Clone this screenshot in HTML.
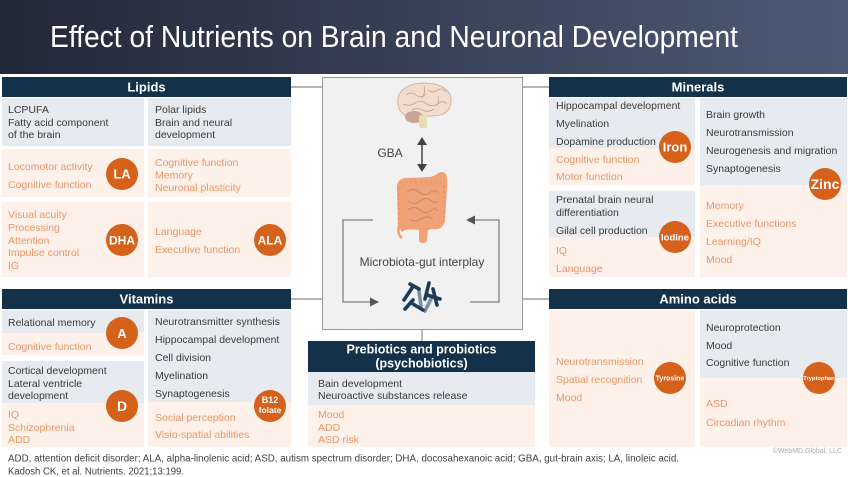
<!DOCTYPE html>
<html><head><meta charset="utf-8"><style>
html,body{margin:0;padding:0;background:#fff;}
svg{display:block;}
text{font-family:"Liberation Sans",Arial,sans-serif;}
.d{fill:#3a3a3a;font-size:10.5px;}
.o{fill:#ec9668;font-size:10.5px;}
.h{fill:#fff;font-size:13px;font-weight:bold;text-anchor:middle;}
.c{fill:#fff;font-weight:bold;text-anchor:middle;}
.g{fill:#e7eaee;}
.p{fill:#fdf1ea;}
.bar{fill:#133149;}
.ci{fill:#d5611b;}
</style></head><body>
<svg width="848" height="477" viewBox="0 0 848 477" xmlns="http://www.w3.org/2000/svg">
<defs>
<linearGradient id="hg" x1="0" y1="0" x2="1" y2="0">
<stop offset="0" stop-color="#212838"/><stop offset="1" stop-color="#4e5a75"/>
</linearGradient>
</defs>
<rect x="0" y="0" width="848" height="74" fill="url(#hg)"/>
<text x="50" y="47" font-size="31" fill="#fff" textLength="688" lengthAdjust="spacingAndGlyphs">Effect of Nutrients on Brain and Neuronal Development</text>

<!-- connectors -->
<g stroke="#8c8c8c" stroke-width="1.2">
<line x1="291" y1="87" x2="322" y2="87"/>
<line x1="523" y1="87" x2="549" y2="87"/>
<line x1="291" y1="299" x2="322" y2="299"/>
<line x1="523" y1="299" x2="549" y2="299"/>
<line x1="422" y1="330" x2="422" y2="341"/>
</g>

<!-- center box -->
<rect x="322.5" y="77.5" width="200" height="252" fill="#f1f1f1" stroke="#9a9a9a" stroke-width="1"/>

<!-- brain -->
<g>
<path d="M398,104 C396,90 409,83 424,83 C441,83 452,90 451,102 C450,112 443,116 432,116 L414,117 C404,117 399,112 398,104 Z" fill="#f2dccf" stroke="#c9a898" stroke-width="0.8"/>
<ellipse cx="414" cy="117" rx="9" ry="6" fill="#c9a592"/>
<rect x="419" y="115" width="8" height="13" rx="2" fill="#e8dcb5"/>
<g fill="none" stroke="#c4a08f" stroke-width="0.8">
<path d="M406,95 q5,-4 10,0 q5,4 10,-1"/>
<path d="M428,90 q5,4 10,0 q4,-3 8,2"/>
<path d="M403,104 q6,3 12,-1 q6,-4 12,1 q6,4 12,-1 q4,-3 8,1"/>
<path d="M412,110 q5,-3 10,0 q6,3 12,-1"/>
<path d="M424,86 q2,6 -2,12"/>
<path d="M438,96 q2,6 -2,10"/>
</g>
</g>

<!-- GBA double arrow -->
<text x="390" y="157" font-size="12" fill="#444" text-anchor="middle">GBA</text>
<line x1="422" y1="143" x2="422" y2="166" stroke="#444" stroke-width="1.5"/>
<polygon points="422,137 417,145 427,145" fill="#444"/>
<polygon points="422,172 417,164 427,164" fill="#444"/>

<!-- gut -->
<g>
<path d="M398,226 L397,190 C396,180 402,177 410,178 L430,177 C436,176 438,172 442,172 C447,172 448,178 447,188 L445,220 C444,228 438,230 432,229 L428,230 L427,240 C427,244 419,244 419,240 L419,230 C412,229 405,229 402,232 L398,226 Z" fill="#f0a275"/>
<path d="M399,226 q-2,8 3,12" stroke="#f0a275" stroke-width="2.5" fill="none"/>
<rect x="405" y="186" width="34" height="38" rx="8" fill="#eea47b"/>
<path d="M407,192 q6,-5 12,0 q6,5 12,0 q4,-3 7,1 M408,201 q6,5 12,0 q6,-5 12,0 q3,3 6,0 M408,210 q6,-5 12,0 q6,5 12,0 q3,-3 6,1 M409,219 q6,4 12,0 q6,-4 12,0" fill="none" stroke="#d9825a" stroke-width="0.9"/>
<path d="M400,182 h45" stroke="#e48e60" stroke-width="1" stroke-dasharray="2 3"/>
<path d="M399,188 v36 M444,186 v36" stroke="#e48e60" stroke-width="1" stroke-dasharray="2 3"/>
</g>

<text x="422" y="266" font-size="12" fill="#444" text-anchor="middle">Microbiota-gut interplay</text>

<!-- loop arrows -->
<g stroke="#808080" stroke-width="1.3" fill="none">
<polyline points="373,220 343,220 343,302 371,302"/>
<polyline points="470,302 499,302 499,220 474,220"/>
</g>
<polygon points="379,302 370,297.5 370,306.5" fill="#555"/>
<polygon points="466,220 475,215.5 475,224.5" fill="#555"/>

<!-- bacteria -->
<g stroke-linecap="round" stroke-width="3.6">
<line x1="419" y1="291" x2="421" y2="306" stroke="#7b8fa0"/>
<line x1="431" y1="299" x2="425" y2="311" stroke="#7b8fa0"/>
<line x1="410" y1="284" x2="419" y2="289" stroke="#1d3b57"/>
<line x1="429" y1="283" x2="425" y2="299" stroke="#1d3b57"/>
<line x1="404" y1="300" x2="412" y2="288" stroke="#1d3b57"/>
<line x1="433" y1="289" x2="437" y2="305" stroke="#1d3b57"/>
<line x1="413" y1="304" x2="423" y2="310" stroke="#1d3b57"/>
<line x1="427" y1="295" x2="440" y2="299" stroke="#1d3b57"/>
<line x1="405" y1="309" x2="413" y2="300" stroke="#1d3b57"/>
</g>

<!-- LIPIDS -->
<rect class="bar" x="2" y="77" width="289" height="20"/>
<text class="h" x="146.5" y="91.5">Lipids</text>
<rect class="g" x="2" y="98" width="142" height="48"/>
<rect class="g" x="148" y="98" width="143" height="48"/>
<rect class="p" x="2" y="149" width="142" height="48"/>
<rect class="p" x="148" y="149" width="143" height="48"/>
<rect class="p" x="2" y="202" width="142" height="75"/>
<rect class="p" x="148" y="202" width="143" height="75"/>
<text class="d" x="8" y="113">LCPUFA</text>
<text class="d" x="8" y="126">Fatty acid component</text>
<text class="d" x="8" y="138">of the brain</text>
<text class="d" x="155" y="113">Polar lipids</text>
<text class="d" x="155" y="126">Brain and neural</text>
<text class="d" x="155" y="138">development</text>
<text class="o" x="8" y="170">Locomotor activity</text>
<text class="o" x="8" y="188">Cognitive function</text>
<text class="o" x="155" y="166">Cognitive function</text>
<text class="o" x="155" y="178.5">Memory</text>
<text class="o" x="155" y="191">Neuronal plasticity</text>
<text class="o" x="8" y="218">Visual acuity</text>
<text class="o" x="8" y="231">Processing</text>
<text class="o" x="8" y="244">Attention</text>
<text class="o" x="8" y="256">Impulse control</text>
<text class="o" x="8" y="269">IG</text>
<text class="o" x="155" y="235">Language</text>
<text class="o" x="155" y="253">Executive function</text>
<circle class="ci" cx="122" cy="174" r="16"/><text class="c" x="122" y="178.5" font-size="13">LA</text>
<circle class="ci" cx="122" cy="240" r="16"/><text class="c" x="122" y="244.5" font-size="12">DHA</text>
<circle class="ci" cx="270" cy="240" r="16"/><text class="c" x="270" y="244.5" font-size="12">ALA</text>

<!-- MINERALS -->
<rect class="bar" x="549" y="77" width="298" height="20"/>
<text class="h" x="698" y="91.5">Minerals</text>
<rect class="g" x="549" y="98" width="146" height="50"/>
<rect class="p" x="549" y="148" width="146" height="37"/>
<rect class="g" x="549" y="191" width="146" height="46"/>
<rect class="p" x="549" y="237" width="146" height="40"/>
<rect class="g" x="700" y="98" width="147" height="87"/>
<rect class="p" x="700" y="185" width="147" height="92"/>
<text class="d" x="556" y="109">Hippocampal development</text>
<text class="d" x="556" y="127">Myelination</text>
<text class="d" x="556" y="145">Dopamine production</text>
<text class="o" x="556" y="163">Cognitive function</text>
<text class="o" x="556" y="180">Motor function</text>
<text class="d" x="556" y="203">Prenatal brain neural</text>
<text class="d" x="556" y="216">differentiation</text>
<text class="d" x="556" y="234">Gilal cell production</text>
<text class="o" x="556" y="254">IQ</text>
<text class="o" x="556" y="272">Language</text>
<text class="d" x="706" y="118">Brain growth</text>
<text class="d" x="706" y="136">Neurotransmission</text>
<text class="d" x="706" y="154">Neurogenesis and migration</text>
<text class="d" x="706" y="172">Synaptogenesis</text>
<text class="o" x="706" y="209">Memory</text>
<text class="o" x="706" y="227">Executive functions</text>
<text class="o" x="706" y="245">Learning/IQ</text>
<text class="o" x="706" y="263">Mood</text>
<circle class="ci" cx="675" cy="147" r="16"/><text class="c" x="675" y="151.5" font-size="13">Iron</text>
<circle class="ci" cx="675" cy="237" r="16"/><text class="c" x="675" y="240.5" font-size="9.5">Iodine</text>
<circle class="ci" cx="825" cy="184" r="16"/><text class="c" x="825" y="189" font-size="14">Zinc</text>

<!-- VITAMINS -->
<rect class="bar" x="2" y="289" width="289" height="20"/>
<text class="h" x="146.5" y="303.5">Vitamins</text>
<rect class="g" x="2" y="310" width="142" height="23"/>
<rect class="p" x="2" y="333" width="142" height="22"/>
<rect class="g" x="2" y="361" width="142" height="42"/>
<rect class="p" x="2" y="403" width="142" height="44"/>
<rect class="g" x="148" y="310" width="143" height="92"/>
<rect class="p" x="148" y="402" width="143" height="45"/>
<text class="d" x="8" y="326">Relational memory</text>
<text class="o" x="8" y="350">Cognitive function</text>
<text class="d" x="8" y="374">Cortical development</text>
<text class="d" x="8" y="387">Lateral ventricle</text>
<text class="d" x="8" y="399">development</text>
<text class="o" x="8" y="418">IQ</text>
<text class="o" x="8" y="431">Schizophrenia</text>
<text class="o" x="8" y="443">ADD</text>
<text class="d" x="155" y="325">Neurotransmitter synthesis</text>
<text class="d" x="155" y="343">Hippocampal development</text>
<text class="d" x="155" y="361">Cell division</text>
<text class="d" x="155" y="379">Myelination</text>
<text class="d" x="155" y="397">Synaptogenesis</text>
<text class="o" x="155" y="421">Social perception</text>
<text class="o" x="155" y="438">Visio-spatial abilities</text>
<circle class="ci" cx="122" cy="333" r="16"/><text class="c" x="122" y="338" font-size="13">A</text>
<circle class="ci" cx="122" cy="406" r="16"/><text class="c" x="122" y="411" font-size="14">D</text>
<circle class="ci" cx="270" cy="406" r="16"/><text class="c" x="270" y="403" font-size="9">B12</text><text class="c" x="270" y="413" font-size="8.5">folate</text>

<!-- AMINO ACIDS -->
<rect class="bar" x="549" y="289" width="298" height="20"/>
<text class="h" x="698" y="303.5">Amino acids</text>
<rect class="p" x="549" y="310" width="146" height="137"/>
<rect class="g" x="700" y="310" width="147" height="68"/>
<rect class="p" x="700" y="378" width="147" height="69"/>
<text class="o" x="556" y="365">Neurotransmission</text>
<text class="o" x="556" y="383">Spatial recognition</text>
<text class="o" x="556" y="401">Mood</text>
<text class="d" x="706" y="331">Neuroprotection</text>
<text class="d" x="706" y="349">Mood</text>
<text class="d" x="706" y="366">Cognitive function</text>
<text class="o" x="706" y="407">ASD</text>
<text class="o" x="706" y="426">Circadian rhythm</text>
<circle class="ci" cx="670" cy="378" r="16"/><text class="c" x="670" y="380.5" font-size="7">Tyrosine</text>
<circle class="ci" cx="819" cy="378" r="16"/><text class="c" x="819" y="380" font-size="5.8">Tryptophan</text>

<!-- PREBIOTICS -->
<rect class="bar" x="308" y="341" width="227" height="31"/>
<text class="c" x="421.5" y="353.5" font-size="12.5">Prebiotics and probiotics</text>
<text class="c" x="421.5" y="367.5" font-size="12.5">(psychobiotics)</text>
<rect class="g" x="308" y="372" width="227" height="33"/>
<rect class="p" x="308" y="405" width="227" height="42"/>
<text class="d" x="318" y="387">Bain development</text>
<text class="d" x="318" y="399">Neuroactive substances release</text>
<text class="o" x="318" y="418">Mood</text>
<text class="o" x="318" y="431">ADD</text>
<text class="o" x="318" y="443">ASD risk</text>

<!-- footer -->
<text x="8" y="461.5" font-size="10" fill="#404040" textLength="671" lengthAdjust="spacingAndGlyphs">ADD, attention deficit disorder; ALA, alpha-linolenic acid; ASD, autism spectrum disorder; DHA, docosahexanoic acid; GBA, gut-brain axis; LA, linoleic acid.</text>
<text x="8" y="474.5" font-size="10" fill="#404040" textLength="176" lengthAdjust="spacingAndGlyphs">Kadosh CK, et al. Nutrients. 2021;13:199.</text>
<text x="842" y="453" font-size="7" fill="#ababab" text-anchor="end">©WebMD Global, LLC</text>
</svg>
</body></html>
